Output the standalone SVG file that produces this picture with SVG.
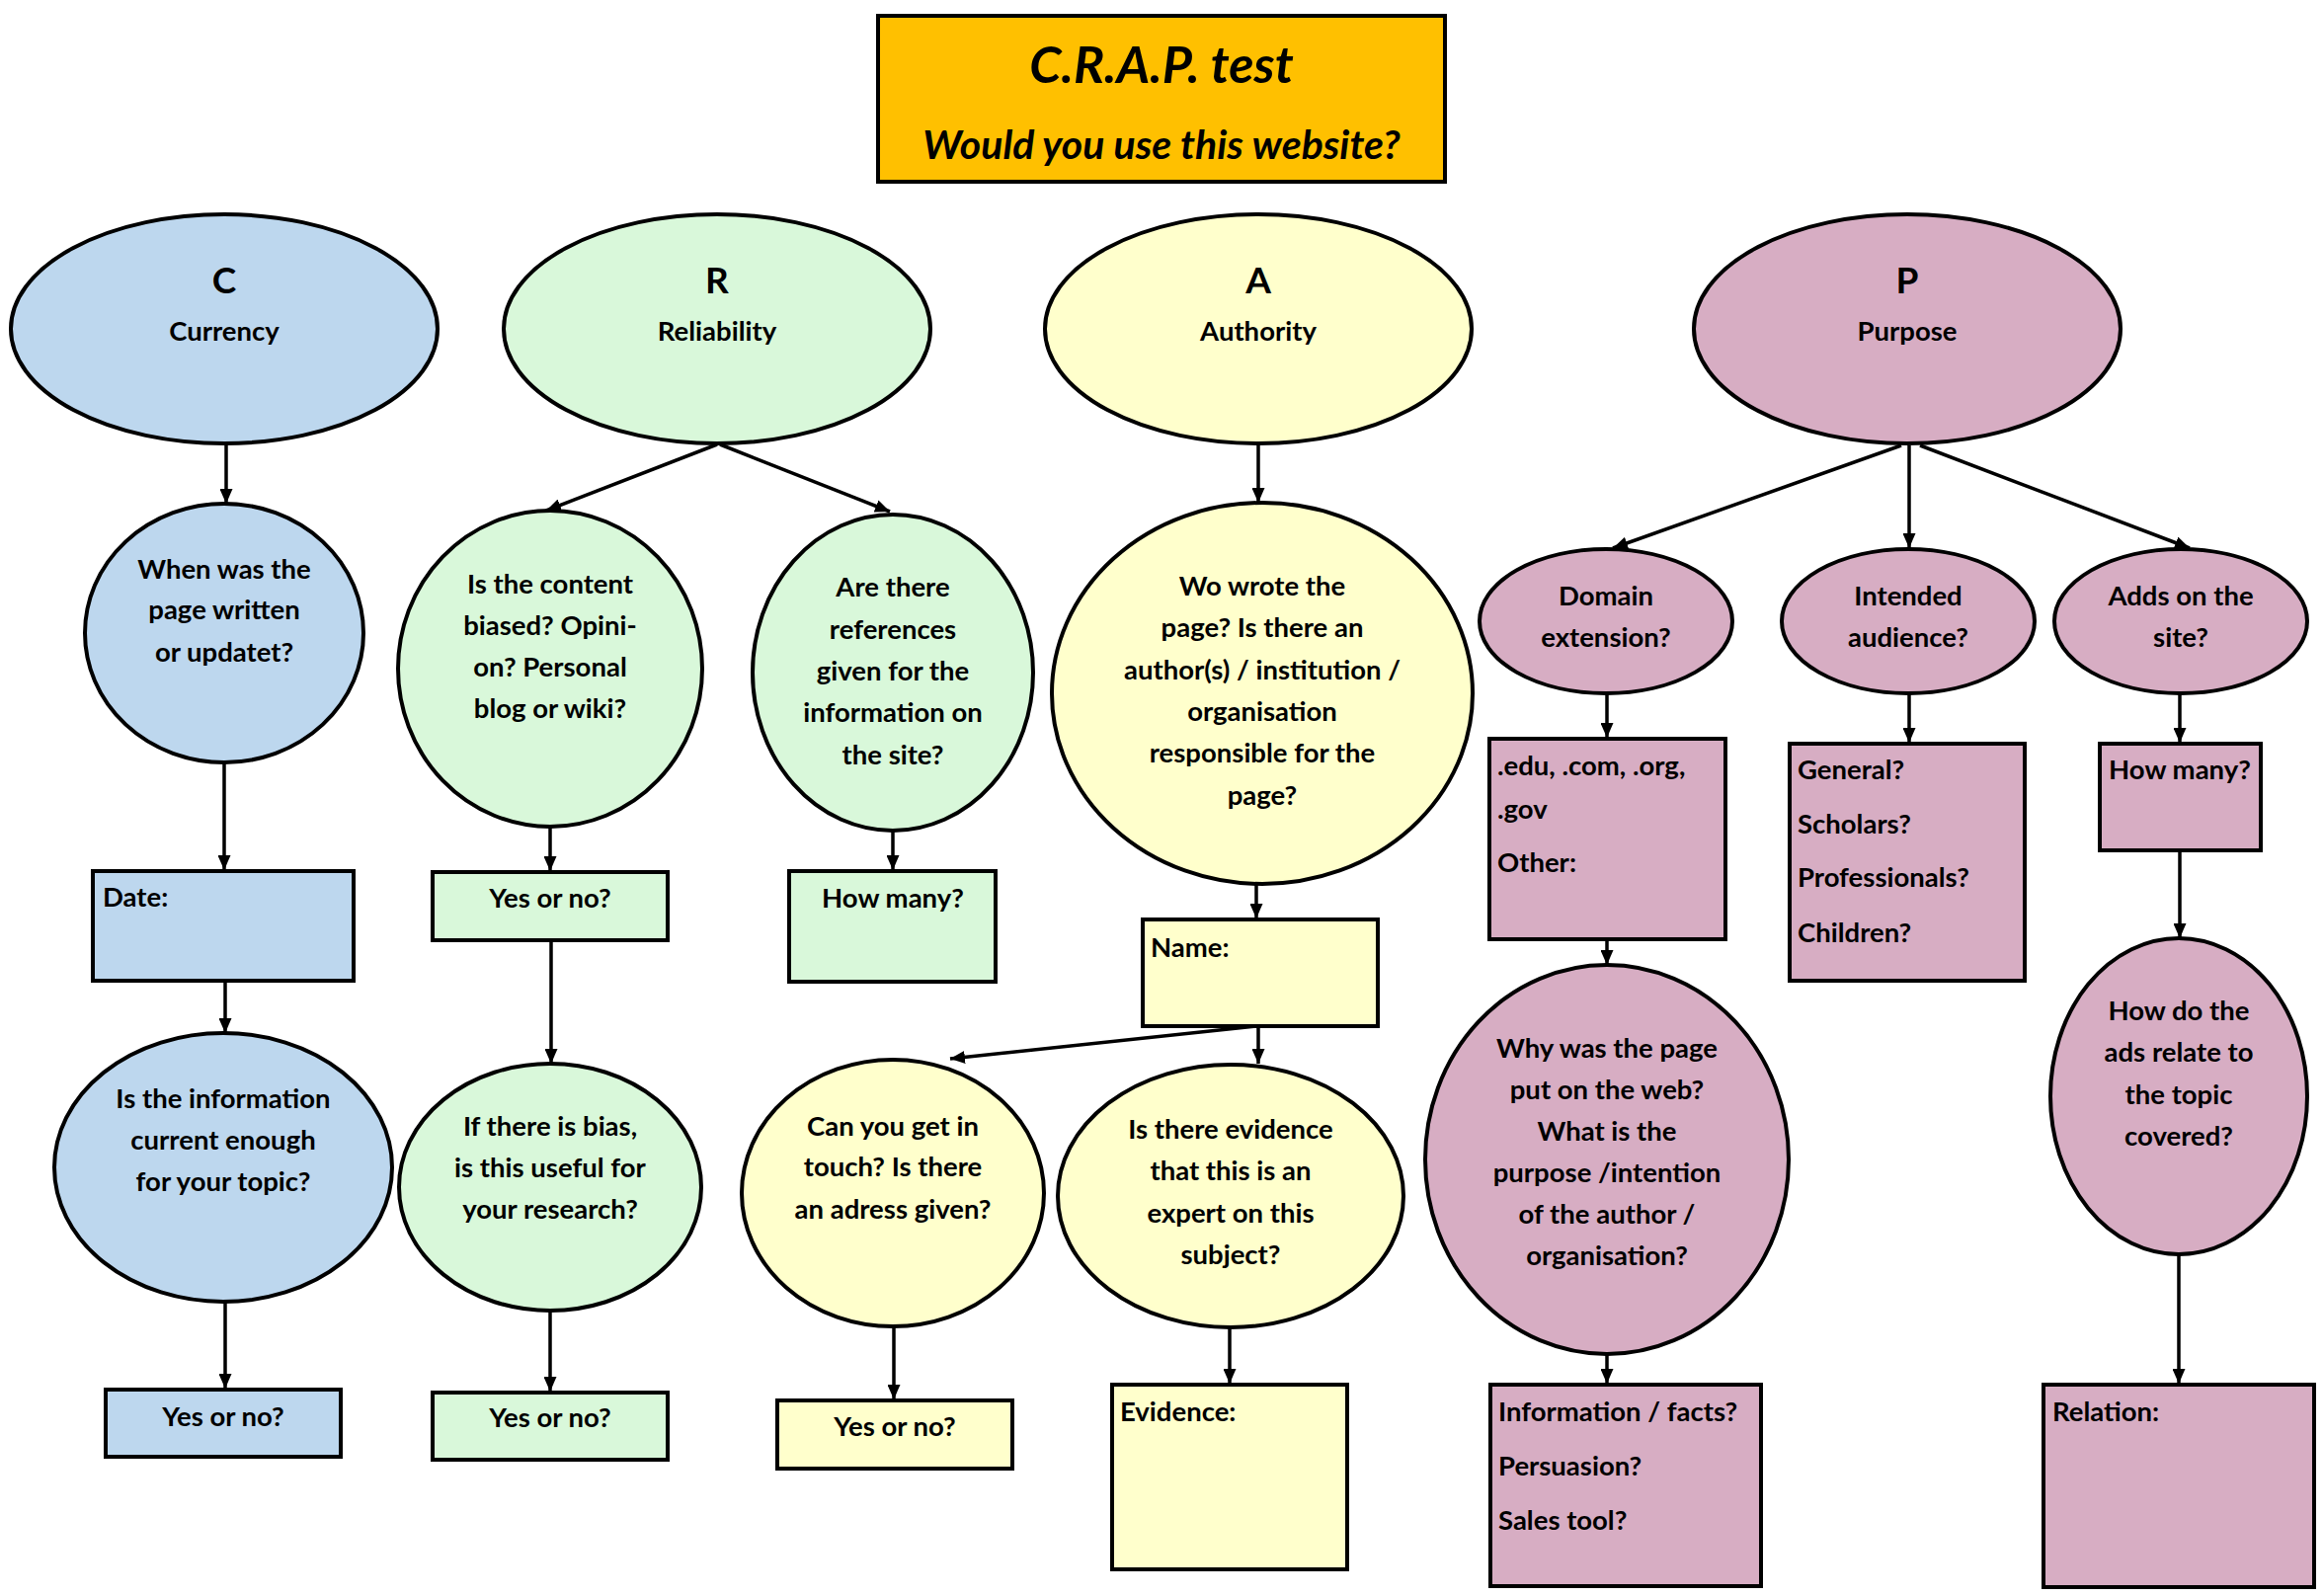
<svg xmlns="http://www.w3.org/2000/svg" width="2352" height="1616" viewBox="0 0 2352 1616">
<defs>
<marker id="ah" markerUnits="userSpaceOnUse" markerWidth="15" markerHeight="13" refX="15" refY="6.5" orient="auto">
<path d="M0,0 L15,6.5 L0,13 z" fill="#000"/>
</marker>
<style>
.n{stroke:#000;stroke-width:4}
.b{fill:#BDD7EE}.g{fill:#D9F8DA}.y{fill:#FFFFCC}.p{fill:#D7ADC3}
text{font-family:Lato,"Liberation Sans",sans-serif;font-weight:bold;font-size:27.5px;fill:#000}
.c{text-anchor:middle}
.big{font-size:37px}
.t1{font-size:52px;font-style:italic}
.t2{font-size:41px;font-style:italic}
.e line{stroke:#000;stroke-width:3.5;marker-end:url(#ah)}
</style>
</defs>
<rect width="2352" height="1616" fill="#fff"/>

<g id="title">
<rect x="889" y="16" width="574" height="168" fill="#FFC000" class="n"/>
<text class="c t1" x="1176" y="84">C.R.A.P. test</text>
<text class="c t2" x="1176" y="161">Would you use this website?</text>
</g>

<g id="C">
<ellipse cx="227" cy="333" rx="216" ry="116" class="n b"/>
<text class="c big" x="227" y="297">C</text>
<text class="c" x="227" y="345">Currency</text>
</g>
<g id="R">
<ellipse cx="726" cy="333" rx="216" ry="116" class="n g"/>
<text class="c big" x="726" y="297">R</text>
<text class="c" x="726" y="345">Reliability</text>
</g>
<g id="A">
<ellipse cx="1274" cy="333" rx="216" ry="116" class="n y"/>
<text class="c big" x="1274" y="297">A</text>
<text class="c" x="1274" y="345">Authority</text>
</g>
<g id="P">
<ellipse cx="1931" cy="333" rx="216" ry="116" class="n p"/>
<text class="c big" x="1931" y="297">P</text>
<text class="c" x="1931" y="345">Purpose</text>
</g>

<g id="c1">
<ellipse cx="227" cy="641" rx="141" ry="131" class="n b"/>
<text class="c" x="227" y="586">When was the</text>
<text class="c" x="227" y="627">page written</text>
<text class="c" x="227" y="670">or updatet?</text>
</g>
<g id="c2">
<rect x="94" y="882" width="264" height="111" class="n b"/>
<text x="104" y="918">Date:</text>
</g>
<g id="c3">
<ellipse cx="226" cy="1182" rx="171" ry="136" class="n b"/>
<text class="c" x="226" y="1122">Is the information</text>
<text class="c" x="226" y="1164">current enough</text>
<text class="c" x="226" y="1206">for your topic?</text>
</g>
<g id="c4">
<rect x="107" y="1407" width="238" height="68" class="n b"/>
<text class="c" x="226" y="1444">Yes or no?</text>
</g>

<g id="r1">
<ellipse cx="557" cy="677" rx="154" ry="160" class="n g"/>
<text class="c" x="557" y="601">Is the content</text>
<text class="c" x="557" y="643">biased? Opini-</text>
<text class="c" x="557" y="685">on? Personal</text>
<text class="c" x="557" y="727">blog or wiki?</text>
</g>
<g id="r2">
<rect x="438" y="883" width="238" height="69" class="n g"/>
<text class="c" x="557" y="919">Yes or no?</text>
</g>
<g id="r3">
<ellipse cx="557" cy="1202" rx="153" ry="125" class="n g"/>
<text class="c" x="557" y="1150">If there is bias,</text>
<text class="c" x="557" y="1192">is this useful for</text>
<text class="c" x="557" y="1234">your research?</text>
</g>
<g id="r4">
<rect x="438" y="1410" width="238" height="68" class="n g"/>
<text class="c" x="557" y="1445">Yes or no?</text>
</g>
<g id="r5">
<ellipse cx="904" cy="681" rx="142" ry="160" class="n g"/>
<text class="c" x="904" y="604">Are there</text>
<text class="c" x="904" y="647">references</text>
<text class="c" x="904" y="689">given for the</text>
<text class="c" x="904" y="731">information on</text>
<text class="c" x="904" y="774">the site?</text>
</g>
<g id="r6">
<rect x="799" y="882" width="209" height="112" class="n g"/>
<text class="c" x="904" y="919">How many?</text>
</g>

<g id="a1">
<ellipse cx="1278" cy="702" rx="213" ry="193" class="n y"/>
<text class="c" x="1278" y="603">Wo wrote the</text>
<text class="c" x="1278" y="645">page? Is there an</text>
<text class="c" x="1278" y="688">author(s) / institution /</text>
<text class="c" x="1278" y="730">organisation</text>
<text class="c" x="1278" y="772">responsible for the</text>
<text class="c" x="1278" y="815">page?</text>
</g>
<g id="a2">
<rect x="1157" y="931" width="238" height="108" class="n y"/>
<text x="1165" y="969">Name:</text>
</g>
<g id="a3">
<ellipse cx="904" cy="1208" rx="153" ry="135" class="n y"/>
<text class="c" x="904" y="1150">Can you get in</text>
<text class="c" x="904" y="1191">touch? Is there</text>
<text class="c" x="904" y="1234">an adress given?</text>
</g>
<g id="a4">
<rect x="787" y="1418" width="238" height="69" class="n y"/>
<text class="c" x="906" y="1454">Yes or no?</text>
</g>
<g id="a5">
<ellipse cx="1246" cy="1211" rx="175" ry="133" class="n y"/>
<text class="c" x="1246" y="1153">Is there evidence</text>
<text class="c" x="1246" y="1195">that this is an</text>
<text class="c" x="1246" y="1238">expert on this</text>
<text class="c" x="1246" y="1280">subject?</text>
</g>
<g id="a6">
<rect x="1126" y="1402" width="238" height="187" class="n y"/>
<text x="1134" y="1439">Evidence:</text>
</g>

<g id="p1">
<ellipse cx="1626" cy="629" rx="128" ry="73" class="n p"/>
<text class="c" x="1626" y="613">Domain</text>
<text class="c" x="1626" y="655">extension?</text>
</g>
<g id="p2">
<ellipse cx="1932" cy="629" rx="128" ry="73" class="n p"/>
<text class="c" x="1932" y="613">Intended</text>
<text class="c" x="1932" y="655">audience?</text>
</g>
<g id="p3">
<ellipse cx="2208" cy="629" rx="128" ry="73" class="n p"/>
<text class="c" x="2208" y="613">Adds on the</text>
<text class="c" x="2208" y="655">site?</text>
</g>
<g id="p4">
<rect x="1508" y="748" width="239" height="203" class="n p"/>
<text x="1516" y="785">.edu, .com, .org,</text>
<text x="1516" y="829">.gov</text>
<text x="1516" y="883">Other:</text>
</g>
<g id="p5">
<ellipse cx="1627" cy="1174" rx="184" ry="197" class="n p"/>
<text class="c" x="1627" y="1071">Why was the page</text>
<text class="c" x="1627" y="1113">put on the web?</text>
<text class="c" x="1627" y="1155">What is the</text>
<text class="c" x="1627" y="1197">purpose /intention</text>
<text class="c" x="1627" y="1239">of the author /</text>
<text class="c" x="1627" y="1281">organisation?</text>
</g>
<g id="p6">
<rect x="1509" y="1402" width="274" height="204" class="n p"/>
<text x="1517" y="1439">Information / facts?</text>
<text x="1517" y="1494">Persuasion?</text>
<text x="1517" y="1549">Sales tool?</text>
</g>
<g id="p7">
<rect x="1812" y="753" width="238" height="240" class="n p"/>
<text x="1820" y="789">General?</text>
<text x="1820" y="844">Scholars?</text>
<text x="1820" y="898">Professionals?</text>
<text x="1820" y="954">Children?</text>
</g>
<g id="p8">
<rect x="2126" y="753" width="163" height="108" class="n p"/>
<text class="c" x="2207" y="789">How many?</text>
</g>
<g id="p9">
<ellipse cx="2206" cy="1110" rx="130" ry="160" class="n p"/>
<text class="c" x="2206" y="1033">How do the</text>
<text class="c" x="2206" y="1075">ads relate to</text>
<text class="c" x="2206" y="1118">the topic</text>
<text class="c" x="2206" y="1160">covered?</text>
</g>
<g id="p10">
<rect x="2069" y="1402" width="274" height="205" class="n p"/>
<text x="2078" y="1439">Relation:</text>
</g>

<g id="connectors" class="e">
<line x1="229" y1="450" x2="229" y2="510"/>
<line x1="227" y1="772" x2="227" y2="881"/>
<line x1="228" y1="994" x2="228" y2="1046"/>
<line x1="228" y1="1318" x2="228" y2="1406"/>
<line x1="726" y1="450" x2="553" y2="517"/>
<line x1="729" y1="450" x2="901" y2="518"/>
<line x1="557" y1="838" x2="557" y2="882"/>
<line x1="558" y1="953" x2="558" y2="1077"/>
<line x1="557" y1="1327" x2="557" y2="1409"/>
<line x1="904" y1="842" x2="904" y2="881"/>
<line x1="1274" y1="450" x2="1274" y2="509"/>
<line x1="1272" y1="896" x2="1272" y2="930"/>
<line x1="1272" y1="1039" x2="962" y2="1072"/>
<line x1="1274" y1="1039" x2="1274" y2="1077"/>
<line x1="905" y1="1344" x2="905" y2="1417"/>
<line x1="1245" y1="1344" x2="1245" y2="1401"/>
<line x1="1925" y1="451" x2="1633" y2="555"/>
<line x1="1933" y1="451" x2="1933" y2="555"/>
<line x1="1944" y1="451" x2="2217" y2="555"/>
<line x1="1627" y1="702" x2="1627" y2="747"/>
<line x1="1627" y1="951" x2="1627" y2="977"/>
<line x1="1627" y1="1371" x2="1627" y2="1401"/>
<line x1="1933" y1="702" x2="1933" y2="752"/>
<line x1="2207" y1="702" x2="2207" y2="752"/>
<line x1="2207" y1="861" x2="2207" y2="950"/>
<line x1="2206" y1="1270" x2="2206" y2="1401"/>
</g>
</svg>
